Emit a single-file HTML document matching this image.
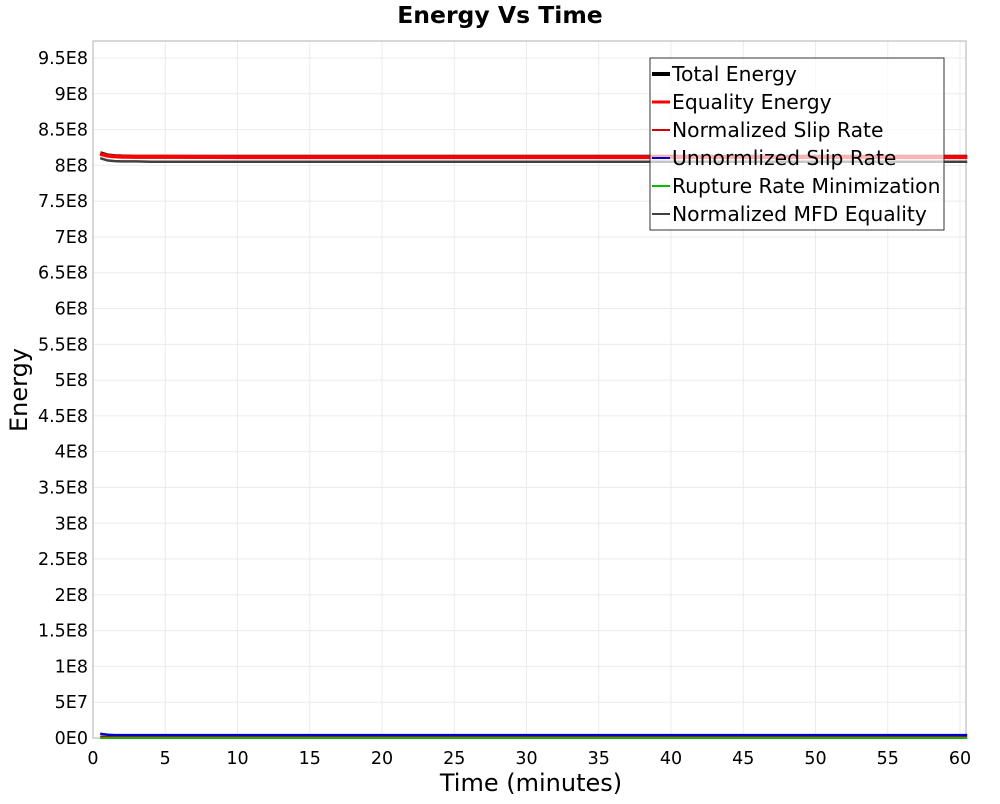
<!DOCTYPE html>
<html><head><meta charset="utf-8"><style>
body{margin:0;background:#fff;font-family:"DejaVu Sans","Liberation Sans",sans-serif}
</style></head><body>
<svg id="chart" width="1000" height="800" xmlns="http://www.w3.org/2000/svg" font-family="DejaVu Sans, Liberation Sans, sans-serif">
<rect width="1000" height="800" fill="#fff"/>
<text x="500" y="23" text-anchor="middle" font-size="23.5" font-weight="bold">Energy Vs Time</text>
<g id="grid"></g>
<rect x="93" y="41" width="873" height="697" fill="none" stroke="#b0b0b0"/>
<g id="axes"></g>
<g id="series"></g>
<text x="531" y="791" text-anchor="middle" font-size="24">Time (minutes)</text>
<text transform="translate(27,390) rotate(-90)" text-anchor="middle" font-size="24">Energy</text>
<g id="legend"></g>
</svg>
<script>
const times=[0.5,1,1.5,2,3,4,5,10,20,30,40,50,60.5];
const totalEnergy=[8.17e8,8.14e8,8.13e8,8.125e8,8.12e8,8.12e8,8.12e8,8.12e8,8.12e8,8.12e8,8.12e8,8.12e8,8.12e8];
const equalityEnergy=[8.16e8,8.135e8,8.125e8,8.12e8,8.12e8,8.12e8,8.12e8,8.115e8,8.115e8,8.115e8,8.115e8,8.115e8,8.115e8];
const normSlip=[0.2e7,0.15e7,0.1e7,0.1e7,0.1e7,0.1e7,0.1e7,0.1e7,0.1e7,0.1e7,0.1e7,0.1e7,0.1e7];
const unnormSlip=[0.6e7,0.45e7,0.4e7,0.4e7,0.4e7,0.4e7,0.4e7,0.4e7,0.4e7,0.4e7,0.4e7,0.4e7,0.4e7];
const ruptureRate=[0,0,0,0,0,0,0,0,0,0,0,0,0];
const mfdEquality=[8.1e8,8.07e8,8.06e8,8.055e8,8.055e8,8.05e8,8.05e8,8.05e8,8.05e8,8.05e8,8.05e8,8.05e8,8.05e8];
const xTicks=[0,5,10,15,20,25,30,35,40,45,50,55,60];
const yTicks=[0,0.5e8,1e8,1.5e8,2e8,2.5e8,3e8,3.5e8,4e8,4.5e8,5e8,5.5e8,6e8,6.5e8,7e8,7.5e8,8e8,8.5e8,9e8,9.5e8];
const yTickLabels=["0E0","5E7","1E8","1.5E8","2E8","2.5E8","3E8","3.5E8","4E8","4.5E8","5E8","5.5E8","6E8","6.5E8","7E8","7.5E8","8E8","8.5E8","9E8","9.5E8"];
const NS="http://www.w3.org/2000/svg";
const X=v=>93+v*(867/60);
const Y=v=>738-v*(680/9.5e8);
function mk(t,a,p){const e=document.createElementNS(NS,t);for(const k in a)e.setAttribute(k,a[k]);p.appendChild(e);return e;}
const grid=document.getElementById('grid'),axes=document.getElementById('axes');
xTicks.forEach(t=>{
 const l=mk('line',{x1:X(t),x2:X(t),y1:41,y2:738,stroke:'#ebebeb'},grid);
 
 
 const tx=mk('text',{x:X(t),y:764,'text-anchor':'middle','font-size':17.5},axes);
 
 
 tx.textContent=t;
});
yTicks.forEach((t,i)=>{
 const l=mk('line',{x1:93,x2:966,y1:Y(t),y2:Y(t),stroke:'#ebebeb'},grid);
 
 
 const tx=mk('text',{x:88,y:Y(t)+6,'text-anchor':'end','font-size':17.5},axes);
 
 
 tx.textContent=yTickLabels[i];
});
const seriesG=document.getElementById('series');
const series=[
 ['mfd-equality-line',mfdEquality,'#404040',2.5],
 ['total-energy-line',totalEnergy,'#000',4],
 ['equality-energy-line',equalityEnergy,'#ff0000',4],
 ['unnormalized-slip-rate-line',unnormSlip,'#0000cc',2.5],
 ['normalized-slip-rate-line',normSlip,'#cc0000',2],
 ['rupture-rate-line',ruptureRate,'#00bb00',2]
];
series.forEach(s=>{
 const p=mk('polyline',{points:times.map((t,i)=>X(t)+','+Y(s[1][i])).join(' '),fill:'none',stroke:s[2],'stroke-width':s[3]},seriesG);
 
 
});
const lg=document.getElementById('legend');
const box=mk('rect',{x:650,y:58,width:294,height:172,fill:'rgba(255,255,255,0.7)',stroke:'#333'},lg);


const entries=[['Total Energy','#000',4],['Equality Energy','#ff0000',3],['Normalized Slip Rate','#cc0000',2],['Unnormlized Slip Rate','#0000cc',2],['Rupture Rate Minimization','#00bb00',2],['Normalized MFD Equality','#404040',2]];
entries.forEach((e,i)=>{
 const y=74+i*28;
 const g=mk('g',{},lg);
 
 
 mk('line',{x1:652,x2:670,y1:y,y2:y,stroke:e[1],'stroke-width':e[2]},g);
 const t=mk('text',{x:672,y:y+7,'font-size':20.3},g);
 t.textContent=e[0];
});
</script>
</body></html>
